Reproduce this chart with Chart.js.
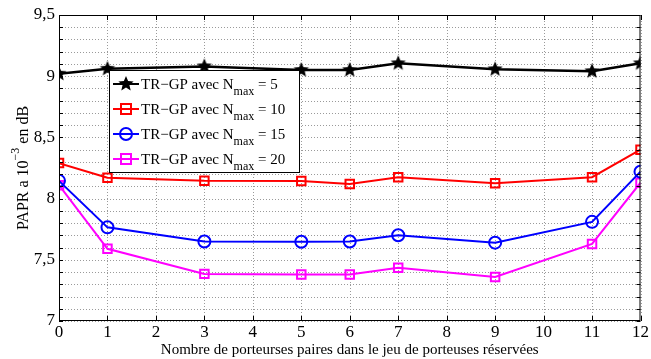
<!DOCTYPE html>
<html><head><meta charset="utf-8">
<script src="https://cdn.jsdelivr.net/npm/chart.js@4/dist/chart.umd.min.js"></script>
<style>html,body{margin:0;padding:0;background:#fff}#wrap{width:651px;height:359px}</style>
</head><body><div id="wrap"><canvas id="c"></canvas></div>
<script>
const xs=[0,1,3,5,6,7,9,11,12];
const nmax5=[9.02,9.06,9.08,9.05,9.05,9.105,9.056,9.04,9.105];
const nmax10=[8.29,8.17,8.145,8.144,8.12,8.175,8.125,8.175,8.40];
const nmax15=[8.145,7.765,7.65,7.648,7.65,7.70,7.64,7.81,8.22];
const nmax20=[8.11,7.59,7.385,7.38,7.38,7.435,7.36,7.63,8.13];
const legendN=['5','10','15','20'];
const colors=['#000000','#ff0000','#0000ff','#ff00ff'];
const FONT="'Liberation Serif','DejaVu Serif',serif";

// filled five point star used as the black marker
function starImg(r){
  const c=document.createElement('canvas');c.width=c.height=r*2+2;
  const g=c.getContext('2d');g.beginPath();
  for(let i=0;i<10;i++){
    const rr=i%2?r*0.45:r, a=-Math.PI/2+i*Math.PI/5;
    g.lineTo(r+1+rr*Math.cos(a),r+1+rr*Math.sin(a));
  }
  g.closePath();g.fillStyle='#000';g.fill();
  return c;
}
const star=starImg(8);

function pts(arr){return xs.map((x,i)=>({x,y:arr[i]}));}

// dotted grid, drawn under the lines
const dotted={
  id:'dotted',
  beforeDatasetsDraw(chart){
    const {ctx,chartArea:a,scales}=chart;
    ctx.save();ctx.strokeStyle='#9a9a9a';ctx.lineWidth=1;ctx.setLineDash([1,2]);
    ctx.beginPath();
    scales.y.ticks.forEach(t=>{
      const y=Math.round(scales.y.getPixelForValue(t.value))+0.5;
      ctx.moveTo(a.left,y);ctx.lineTo(a.right,y);
    });
    scales.x.ticks.forEach(t=>{
      const x=Math.round(scales.x.getPixelForValue(t.value))+0.5;
      ctx.moveTo(x,a.top);ctx.lineTo(x,a.bottom);
    });
    ctx.stroke();ctx.restore();
  }
};

const frame={
  id:'frame',
  afterDatasetsDraw(chart){
    const {ctx,chartArea:a,scales}=chart;
    ctx.save();
    // box + inward ticks
    ctx.strokeStyle='#000';ctx.lineWidth=1;
    ctx.strokeRect(a.left+0.5,a.top+0.5,a.right-a.left-1,a.bottom-a.top-1);
    ctx.beginPath();
    scales.y.ticks.forEach(t=>{
      const y=Math.round(scales.y.getPixelForValue(t.value))+0.5;
      ctx.moveTo(a.left,y);ctx.lineTo(a.left+4,y);
      ctx.moveTo(a.right,y);ctx.lineTo(a.right-4,y);
    });
    scales.x.ticks.forEach(t=>{
      const x=Math.round(scales.x.getPixelForValue(t.value))+0.5;
      ctx.moveTo(x,a.bottom);ctx.lineTo(x,a.bottom-5);
      ctx.moveTo(x,a.top);ctx.lineTo(x,a.top+5);
    });
    ctx.stroke();

    // legend box
    const lx=109.5,ly=70.5,lw=190,lh=102;
    ctx.fillStyle='#fff';ctx.fillRect(lx,ly,lw,lh);
    ctx.strokeRect(lx,ly,lw,lh);
    legendN.forEach((n,i)=>{
      const y=84+i*25, c=colors[i];
      ctx.strokeStyle=c;ctx.lineWidth=2;
      ctx.beginPath();ctx.moveTo(113,y);ctx.lineTo(139,y);ctx.stroke();
      if(i===0){ctx.drawImage(star,126-star.width/2,y-star.height/2);}
      else if(i===2){ctx.beginPath();ctx.arc(126,y,6,0,Math.PI*2);ctx.stroke();}
      else{ctx.strokeRect(121,y-5,10,10);}
      ctx.fillStyle='#000';ctx.textBaseline='alphabetic';ctx.textAlign='left';
      ctx.font='15px '+FONT;
      const t1='TR\u2212GP avec N';
      ctx.fillText(t1,141,y+5);
      let x=141+ctx.measureText(t1).width;
      ctx.font='12px '+FONT;
      ctx.fillText('max',x,y+11);
      x+=ctx.measureText('max').width;
      ctx.font='15px '+FONT;
      ctx.fillText(' = '+n,x,y+5);
    });

    // y axis title with superscript
    ctx.translate(23,(a.top+a.bottom)/2);ctx.rotate(-Math.PI/2);
    ctx.fillStyle='#000';
    const p1='PAPR a 10',p2='\u22123',p3=' en dB';
    ctx.font='16px '+FONT;const w1=ctx.measureText(p1).width,w3=ctx.measureText(p3).width;
    ctx.font='12px '+FONT;const w2=ctx.measureText(p2).width;
    let x0=-(w1+w2+w3)/2;
    ctx.font='16px '+FONT;ctx.fillText(p1,x0,5);
    ctx.font='12px '+FONT;ctx.fillText(p2,x0+w1,-4);
    ctx.font='16px '+FONT;ctx.fillText(p3,x0+w1+w2,5);
    ctx.restore();
  }
};

new Chart(document.getElementById('c'),{
  type:'line',
  data:{datasets:[
    {data:pts(nmax5),borderColor:colors[0],borderWidth:2.5,pointStyle:star,pointRadius:8,pointHoverRadius:8},
    {data:pts(nmax10),borderColor:colors[1],borderWidth:2,pointStyle:'rect',pointRadius:6,pointBorderWidth:2,pointBackgroundColor:'rgba(0,0,0,0)'},
    {data:pts(nmax15),borderColor:colors[2],borderWidth:2,pointStyle:'circle',pointRadius:6,pointBorderWidth:2,pointBackgroundColor:'rgba(0,0,0,0)'},
    {data:pts(nmax20),borderColor:colors[3],borderWidth:2,pointStyle:'rect',pointRadius:6,pointBorderWidth:2,pointBackgroundColor:'rgba(0,0,0,0)'}
  ]},
  options:{
    responsive:true,maintainAspectRatio:false,animation:false,
    layout:{padding:{top:15,right:6,left:0,bottom:0}},
    plugins:{legend:{display:false},tooltip:{enabled:false}},
    scales:{
      x:{type:'linear',min:0,max:12,
        ticks:{stepSize:1,color:'#000',font:{family:FONT,size:17},padding:1,maxRotation:0},
        grid:{display:false,drawTicks:false},border:{display:false},
        title:{display:true,text:'Nombre de porteurses paires dans le jeu de porteuses réservées',color:'#000',font:{family:FONT,size:15},padding:{top:-5,bottom:0}},
        afterFit(s){s.height=38;}
      },
      y:{min:7,max:9.5,
        ticks:{stepSize:0.1,autoSkip:false,color:'#000',font:{family:FONT,size:17},padding:4,
          callback(v){const h=v*2;return Math.abs(h-Math.round(h))<1e-6?String(Math.round(h)/2).replace('.',','):'';}},
        grid:{display:false,drawTicks:false},border:{display:false},
        afterFit(s){s.width=59;}
      }
    }
  },
  plugins:[dotted,frame]
});
</script></body></html>
